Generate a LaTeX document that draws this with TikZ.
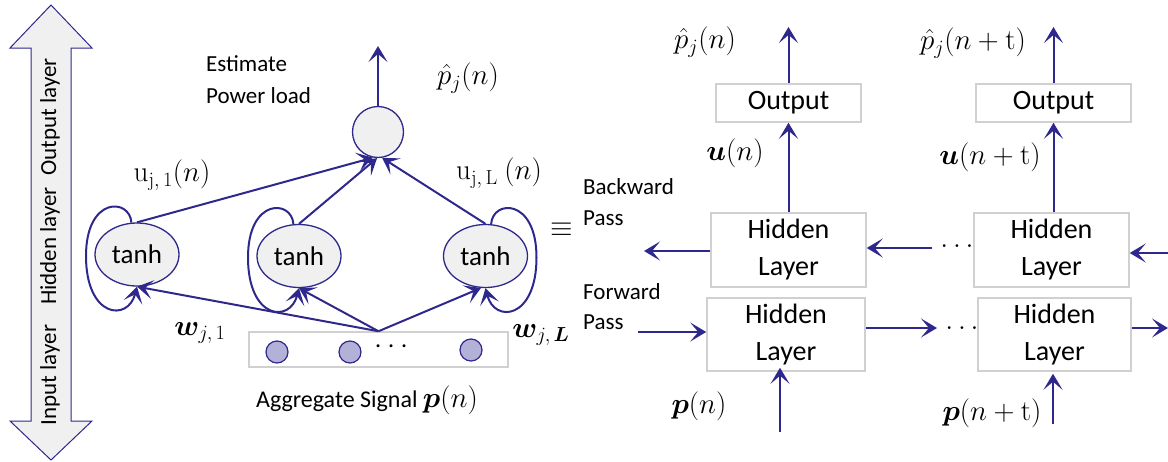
\RequirePackage{fix-cm}
\documentclass[tikz,border=0pt]{standalone}
\usepackage{amsmath}
\usepackage{bm}
\usepackage[no-math]{fontspec}
\setmainfont{Carlito}
\usetikzlibrary{arrows.meta,shapes.geometric}
\definecolor{navy}{HTML}{2E288C}
\definecolor{boxgray}{HTML}{D0D0D0}
\definecolor{nodefill}{HTML}{F0F0F0}
\definecolor{dotfill}{HTML}{B4B1D9}
\newcommand{\fsz}[1]{\fontsize{#1}{#1}\selectfont}
\begin{document}
\begin{tikzpicture}[x=1pt,y=-1pt,
  conn/.style={draw=navy,line width=2pt,-{Stealth[length=16pt,width=19pt,inset=8pt]}},
  hid/.style={ellipse,draw=navy,line width=1.3pt,fill=nodefill,minimum width=84pt,minimum height=63pt,inner sep=0pt,font=\fsz{27}},
  outc/.style={circle,draw=navy,line width=1.3pt,fill=nodefill,minimum size=51pt,inner sep=0pt},
  inc/.style={circle,draw=navy,line width=1.2pt,fill=dotfill,minimum size=22pt,inner sep=0pt},
  gbox/.style={rectangle,draw=boxgray,line width=1.5pt,inner sep=0pt,align=center,font=\fontsize{28}{37}\selectfont},
  lbl/.style={inner sep=0pt,font=\fsz{23}},
  mlbl/.style={inner sep=0pt,font=\fsz{29}},
  lay/.style={inner sep=0pt,rotate=90,font=\fsz{23}}
]
\useasboundingbox (0,0) rectangle (1168,461);

% ---- left double arrow ----
\draw[navy,line width=1pt,fill=nodefill]
  (51,5) -- (92,48) -- (71,48) -- (71,421) -- (92,421) -- (51,460)
  -- (10,421) -- (31,421) -- (31,48) -- (10,48) -- cycle;
\node[lay] (lin) at (50,375) {Input layer};
\node[lay] (lhid) at (50,246) {Hidden layer};
\node[lay] (lout) at (50,117) {Output layer};

% ---- left network ----
\node[outc] (out) at (378,132) {};
\node[hid] (h1) at (137,254.5) {tanh};
\node[hid] (h2) at (299,256) {tanh};
\node[hid] (h3) at (485.5,256) {tanh};
\node[rectangle,draw=boxgray,line width=1.5pt,minimum width=259pt,minimum height=35pt,inner sep=0pt] (inbox) at (378.5,349.5) {};
\node[inc] (c1) at (277,352) {};
\node[inc] (c2) at (350,352) {};
\node[inc] (c3) at (471,350) {};
\node[mlbl] (cdots) at (394,347) {$\cdots$};

\coordinate (ptop) at (378,46);
\draw[conn] (out.north) -- (ptop);
\draw[conn] (h1.north) -- (out.259);
\draw[conn] (h2.north) -- (out.268);
\draw[conn] (h3.north) -- (out.279);

\draw[conn] (inbox.north) -- (h1.south);
\draw[conn] (inbox.north) -- (h2.south);
\draw[conn] (inbox.north) -- (h3.262);

\draw[conn] (h1.100) .. controls (130,198) and (86,196) .. (86,256)
  .. controls (86,318) and (128,322) .. (h1.south);
\draw[conn] (h2.100) .. controls (292,199.5) and (248,197.5) .. (248,257.5)
  .. controls (248,319.5) and (290,323.5) .. (h2.south);
\draw[conn] (h3.80) .. controls (492.5,199.5) and (536.5,197.5) .. (536.5,257.5)
  .. controls (536.5,319.5) and (494.5,323.5) .. (h3.south);

\node[lbl,anchor=west] (est) at (206,64) {Estimate};
\node[lbl,anchor=west] (pld) at (206,96) {Power load};
\node[mlbl] (phat) at (468,78) {$\hat{p}_j(n)$};
\node[mlbl] (u1) at (172,175) {$\mathrm{u}_{\mathrm{j},\,\mathrm{1}}(n)$};
\node[mlbl] (uL) at (499,173) {$\mathrm{u}_{\mathrm{j},\,\mathrm{L}}\ (n)$};
\node[mlbl] (w1) at (200,333) {$\boldsymbol{w}_{j,\,1}$};
\node[mlbl] (wL) at (541,335) {$\boldsymbol{w}_{j,\,\boldsymbol{L}}$};
\node[mlbl] (eqv) at (562,230) {$\equiv$};
\node[inner sep=0pt,font=\fsz{24}] (agg) at (367,400) {Aggregate Signal \fsz{29}$\boldsymbol{p}(n)$};

% ---- right unrolled network ----
\node[gbox,minimum width=145pt,minimum height=38pt] (o1) at (788.5,103) {Output};
\node[gbox,minimum width=155pt,minimum height=38pt] (o2) at (1053.5,103) {Output};
\node[gbox,minimum width=155pt,minimum height=74pt] (bh1) at (788.5,250) {Hidden\\Layer};
\node[gbox,minimum width=155pt,minimum height=74pt] (bh2) at (1051.5,250) {Hidden\\Layer};
\node[gbox,minimum width=158pt,minimum height=73pt] (fh1) at (786,334.5) {Hidden\\Layer};
\node[gbox,minimum width=153pt,minimum height=73pt] (fh2) at (1054.5,334.5) {Hidden\\Layer};

\node[lbl,anchor=west,align=left,font=\fontsize{23}{31}\selectfont] (bw) at (583,202) {Backward\\Pass};
\node[lbl,anchor=west,align=left,font=\fontsize{23}{30}\selectfont] (fw) at (583,307) {Forward\\Pass};

\coordinate (t1) at (788.5,27);
\coordinate (t2) at (1053.5,27);
\draw[conn] (o1.north) -- (t1);
\draw[conn] (o2.north) -- (t2);
\draw[conn] (bh1.north) -- (o1.south);
\draw[conn] (bh2.north -| o2.south) -- (o2.south);

\coordinate (bl) at (644,251);
\coordinate (bd) at (932,248);
\coordinate (be) at (1168,253);
\draw[conn] (bh1.west |- bl) -- (bl);
\draw[conn] (bd) -- (bd -| bh1.east);
\draw[conn] (be) -- (be -| bh2.east);
\node[mlbl] (dots1) at (957,246) {$\ldots$};

\coordinate (fl) at (638,332);
\coordinate (fd) at (937,328);
\coordinate (fr) at (1168,328);
\draw[conn] (fl) -- (fl -| fh1.west);
\draw[conn] (fh1.east |- fd) -- (fd);
\draw[conn] (fh2.east |- fr) -- (fr);
\node[mlbl] (dots2) at (962,328) {$\ldots$};

\coordinate (pin1) at (780,432);
\coordinate (pin2) at (1053,424);
\draw[conn] (pin1) -- ([yshift=4pt]pin1 |- fh1.south);
\draw[conn] (pin2) -- ([yshift=-2pt]pin2 |- fh2.south);

\node[mlbl] (po1) at (705,42) {$\hat{p}_j(n)$};
\node[mlbl] (po2) at (973,43) {$\hat{p}_j(n+\mathrm{t})$};
\node[mlbl] (un1) at (735,153) {$\boldsymbol{u}(n)$};
\node[mlbl] (un2) at (990,157) {$\boldsymbol{u}(n+\mathrm{t})$};
\node[mlbl] (pn1) at (699,406) {$\boldsymbol{p}(n)$};
\node[mlbl] (pn2) at (992,413) {$\boldsymbol{p}(n+\mathrm{t})$};
\end{tikzpicture}
\end{document}
